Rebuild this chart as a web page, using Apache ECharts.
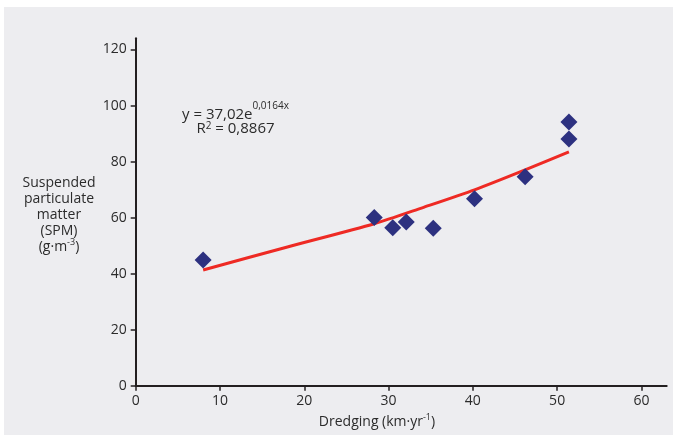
<!DOCTYPE html>
<html>
<head>
<meta charset="utf-8">
<script src="https://cdn.jsdelivr.net/npm/echarts@6/dist/echarts.min.js"></script>
<style>
html,body{margin:0;padding:0;background:#ffffff;width:673px;height:435px;overflow:hidden;}
#chart{position:absolute;left:4px;top:7px;width:669px;height:428px;}
</style>
</head>
<body>
<div id="chart"></div>
<script>
// Observed points: dredging (km·yr-1) vs SPM (g·m-3)
const dredging = [8.0, 28.3, 30.5, 32.1, 35.3, 40.2, 46.2, 51.4, 51.4];
const spm      = [44.9, 60.0, 56.4, 58.4, 56.2, 66.7, 74.6, 88.1, 94.1];
// Trend line
const trendX = [8.0, 18.0, 28.3, 34.0, 40.2, 46.2, 51.4];
const trendY = [41.3, 49.5, 57.8, 63.5, 69.9, 77.0, 83.5];
// Tick labels
const xTicks = [0, 10, 20, 30, 40, 50, 60];
const yTicks = [0, 20, 40, 60, 80, 100, 120];

const FONT = '"Open Sans", "Noto Sans", sans-serif';
const TXT = '#2b2b2b';
const AX = '#231f20';

const chart = echarts.init(document.getElementById('chart'), null, {renderer: 'canvas'});
chart.setOption({
  backgroundColor: '#ededf0',
  animation: false,
  grid: {left: 131.7, top: 31.3, right: 6.3, bottom: 49.3, containLabel: false},
  xAxis: {
    type: 'value', min: 0, max: 63,
    axisLine: {show: true, lineStyle: {color: AX, width: 2}},
    axisTick: {show: true, length: 5, lineStyle: {color: AX, width: 1.5}, customValues: xTicks},
    axisLabel: {customValues: xTicks, color: TXT, fontSize: 14, fontFamily: FONT, margin: 8},
    splitLine: {show: false}
  },
  yAxis: {
    type: 'value', min: 0, max: 124,
    axisLine: {show: true, lineStyle: {color: AX, width: 2}},
    axisTick: {show: true, length: 5, lineStyle: {color: AX, width: 1.5}, customValues: yTicks},
    axisLabel: {customValues: yTicks, color: TXT, fontSize: 14, fontFamily: FONT, margin: 9},
    splitLine: {show: false}
  },
  series: [
    {
      type: 'line',
      data: trendX.map((x, i) => [x, trendY[i]]),
      smooth: 0.25,
      symbol: 'none',
      lineStyle: {color: '#ee2a24', width: 3},
      z: 2
    },
    {
      type: 'scatter',
      data: dredging.map((x, i) => [x, spm[i]]),
      symbol: 'diamond',
      symbolSize: [17, 17],
      itemStyle: {color: '#2d3180', opacity: 1},
      z: 3
    }
  ],
  graphic: [
    {
      type: 'text',
      style: {
        x: 231.5, y: 105, align: 'center', verticalAlign: 'middle',
        text: '{a|y = 37,02e}{s|0,0164x}',
        rich: {
          a: {fontSize: 15, fontFamily: FONT, fill: TXT, verticalAlign: 'bottom'},
          s: {fontSize: 10, fontFamily: FONT, fill: TXT, padding: [0, 0, 11, 0], verticalAlign: 'top'}
        }
      }
    },
    {
      type: 'text',
      style: {
        x: 231.5, y: 122, align: 'center', verticalAlign: 'middle',
        text: '{a|R}{s|2}{a| = 0,8867}',
        rich: {
          a: {fontSize: 15, fontFamily: FONT, fill: TXT, lineHeight: 15, verticalAlign: 'bottom'},
          s: {fontSize: 10, fontFamily: FONT, fill: TXT, lineHeight: 12, verticalAlign: 'top'}
        }
      }
    },
    {
      type: 'text',
      style: {
        x: 55, y: 207, align: 'center', verticalAlign: 'middle',
        text: '{a|Suspended}\n{a|particulate}\n{a|matter}\n{a|(SPM)}\n{a|(g·m}{s|-3}{a|)}',
        rich: {
          a: {fontSize: 14, fontFamily: FONT, fill: TXT, lineHeight: 16, verticalAlign: 'bottom'},
          s: {fontSize: 9, fontFamily: FONT, fill: TXT, lineHeight: 12, verticalAlign: 'top'}
        }
      }
    },
    {
      type: 'text',
      style: {
        x: 373, y: 414, align: 'center', verticalAlign: 'middle',
        text: '{a|Dredging (km·yr}{s|-1}{a|)}',
        rich: {
          a: {fontSize: 14, fontFamily: FONT, fill: TXT, lineHeight: 16, verticalAlign: 'bottom'},
          s: {fontSize: 9, fontFamily: FONT, fill: TXT, lineHeight: 12, verticalAlign: 'top'}
        }
      }
    }
  ]
});
</script>
</body>
</html>
